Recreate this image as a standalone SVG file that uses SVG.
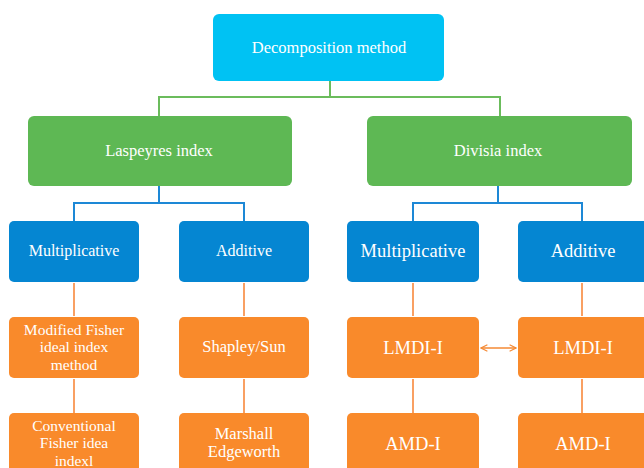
<svg xmlns="http://www.w3.org/2000/svg" width="644" height="468" viewBox="0 0 644 468">
<defs>
<style>
.t{font-family:"Liberation Serif","Times New Roman",serif;fill:#fff;text-anchor:middle}
.top{fill:#00C2F3}
.grn{fill:#5EB854}
.blu{fill:#0586D2}
.org{fill:#F98A2B}
.cg{stroke:#6BBC5C;stroke-width:2;fill:none}
.cb{stroke:#1D88D6;stroke-width:2;fill:none}
.co{stroke:#F9A063;stroke-width:2;fill:none}
.arr{stroke:#F58A35;stroke-width:1.5;fill:none}
</style>
<marker id="ah" viewBox="0 0 10 10" refX="9" refY="5" markerWidth="8" markerHeight="8" orient="auto-start-reverse" markerUnits="userSpaceOnUse">
<path d="M1,1 L9,5 L1,9" fill="none" stroke="#F58A35" stroke-width="1.5"/>
</marker>
</defs>
<rect width="644" height="468" fill="#fff"/>
<g id="connectors">
<path class="cg" d="M330,80 V97 M159,116 V97 H500 V116"/>
<path class="cb" d="M159,186 V203 M74,221 V203 H244 V221"/>
<path class="cb" d="M498,186 V203 M413,221 V203 H582 V221"/>
<path class="co" d="M74,283 V316 M74,379 V413"/>
<path class="co" d="M244,283 V316 M244,379 V413"/>
<path class="co" d="M413,283 V316 M413,379 V413"/>
<path class="co" d="M582,283 V316 M582,379 V413"/>
<line class="arr" x1="481" y1="348" x2="516" y2="348" marker-start="url(#ah)" marker-end="url(#ah)"/>
</g>
<g id="n_top"><rect class="top" x="213" y="14" width="231" height="67" rx="6"/><text class="t" x="329" y="53" font-size="16.5">Decomposition method</text></g>
<g id="n_laspeyres"><rect class="grn" x="28" y="116" width="264" height="70" rx="6"/><text class="t" x="159" y="156" font-size="16.5">Laspeyres index</text></g>
<g id="n_divisia"><rect class="grn" x="367" y="116" width="265" height="70" rx="6"/><text class="t" x="498" y="156" font-size="16.5">Divisia index</text></g>
<g id="n_lmult"><rect class="blu" x="9" y="221" width="130" height="61" rx="5"/><text class="t" x="74" y="256" font-size="16">Multiplicative</text></g>
<g id="n_ladd"><rect class="blu" x="179" y="221" width="130" height="61" rx="5"/><text class="t" x="244" y="256" font-size="16">Additive</text></g>
<g id="n_rmult"><rect class="blu" x="347" y="221" width="132" height="61" rx="5"/><text class="t" x="413" y="257" font-size="18.5">Multiplicative</text></g>
<g id="n_radd"><rect class="blu" x="518" y="221" width="132" height="61" rx="5"/><text class="t" x="583" y="257" font-size="18.5">Additive</text></g>
<g id="n_fisher"><rect class="org" x="9" y="317" width="130" height="61" rx="5"/><text class="t" font-size="15.5"><tspan x="74" y="334.5">Modified Fisher</tspan><tspan x="74" y="352">ideal index</tspan><tspan x="74" y="369.5">method</tspan></text></g>
<g id="n_shapley"><rect class="org" x="179" y="317" width="130" height="61" rx="5"/><text class="t" x="244" y="352" font-size="16.5">Shapley/Sun</text></g>
<g id="n_lmdi1"><rect class="org" x="347" y="317" width="132" height="61" rx="5"/><text class="t" x="413" y="354" font-size="18.5">LMDI-I</text></g>
<g id="n_lmdi2"><rect class="org" x="518" y="317" width="132" height="61" rx="5"/><text class="t" x="583" y="354" font-size="18.5">LMDI-I</text></g>
<g id="n_conv"><rect class="org" x="9" y="413" width="130" height="61" rx="5"/><text class="t" font-size="15.5"><tspan x="74" y="430.5">Conventional</tspan><tspan x="74" y="448">Fisher idea</tspan><tspan x="74" y="465.5">indexl</tspan></text></g>
<g id="n_marshall"><rect class="org" x="179" y="413" width="130" height="61" rx="5"/><text class="t" font-size="16.5"><tspan x="244" y="439">Marshall</tspan><tspan x="244" y="457">Edgeworth</tspan></text></g>
<g id="n_amd1"><rect class="org" x="347" y="413" width="132" height="61" rx="5"/><text class="t" x="413" y="450" font-size="18.5">AMD-I</text></g>
<g id="n_amd2"><rect class="org" x="518" y="413" width="132" height="61" rx="5"/><text class="t" x="583" y="450" font-size="18.5">AMD-I</text></g>
</svg>
